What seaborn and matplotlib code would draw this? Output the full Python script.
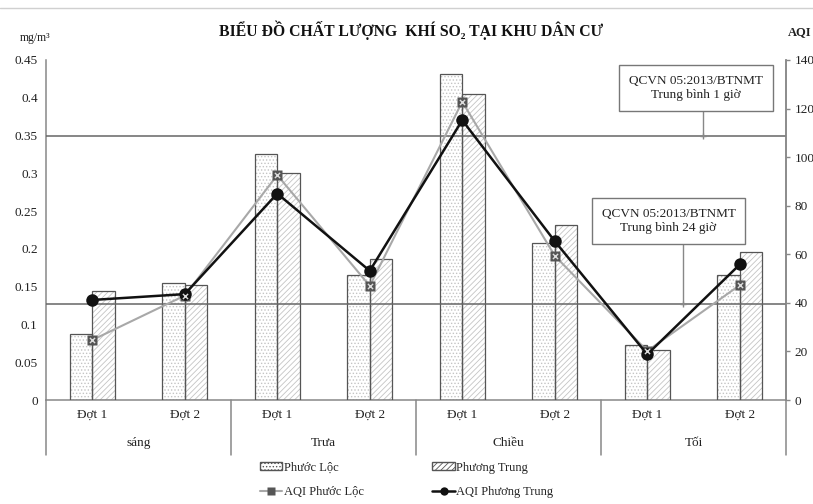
import pandas as pd
import matplotlib.pyplot as plt
import seaborn as sns
from matplotlib.patches import Rectangle, Patch
from matplotlib.lines import Line2D

# dữ liệu
periods = ['sáng', 'Trưa', 'Chiều', 'Tối']
rounds = ['Đợt 1', 'Đợt 2']
so2_phuoc_loc = [0.087, 0.155, 0.325, 0.165, 0.432, 0.208, 0.073, 0.165]
so2_phuong_trung = [0.144, 0.152, 0.300, 0.187, 0.405, 0.231, 0.066, 0.196]
aqi_phuoc_loc = [24.7, 43.0, 92.6, 47.0, 122.8, 59.4, 20.2, 47.3]
aqi_phuong_trung = [41.2, 43.6, 85.0, 53.2, 115.2, 65.4, 18.8, 55.8]
limits = [0.35, 0.127]
limit_labels = ['QCVN 05:2013/BTNMT\nTrung bình 1 giờ', 'QCVN 05:2013/BTNMT\nTrung bình 24 giờ']

labels = [f'{p}|{r}' for p in periods for r in rounds]
n = len(labels)

bars = pd.DataFrame({
    'cat': labels * 2,
    'val': so2_phuoc_loc + so2_phuong_trung,
    'site': ['Phước Lộc'] * n + ['Phương Trung'] * n,
})
lines = pd.DataFrame({
    'pos': list(range(n)) * 2,
    'aqi': aqi_phuoc_loc + aqi_phuong_trung,
    'series': ['AQI Phước Lộc'] * n + ['AQI Phương Trung'] * n,
})

sns.set_theme(style='white')
plt.rcParams['font.family'] = ['Liberation Serif', 'DejaVu Serif']
plt.rcParams['hatch.linewidth'] = 0.6

fig = plt.figure(figsize=(8.13, 5.04), dpi=100)
ax = fig.add_axes([0.0566, 0.2063, 0.9102, 0.6747])

sns.barplot(data=bars, x='cat', y='val', hue='site', order=labels,
            palette={'Phước Lộc': 'white', 'Phương Trung': 'white'},
            width=0.49, gap=0, ax=ax, legend=False, saturation=1)

hatches = {'Phước Lộc': '.....', 'Phương Trung': '//////'}
for cont, site in zip(ax.containers, ['Phước Lộc', 'Phương Trung']):
    for p in cont:
        p.set_hatch(hatches[site])
        p.set_edgecolor('#c4c4c4')
        p.set_linewidth(0)
        ax.add_patch(Rectangle(p.get_xy(), p.get_width(), p.get_height(),
                               fill=False, edgecolor='#555555', lw=0.9, zorder=3))

ax.set_ylim(0, 0.45)
ax.set_yticks([0, 0.05, 0.1, 0.15, 0.2, 0.25, 0.3, 0.35, 0.4, 0.45])
ax.set_yticklabels(['0', '0.05', '0.1', '0.15', '0.2', '0.25', '0.3', '0.35', '0.4', '0.45'])
ax.set_xlabel('')
ax.set_ylabel('')
ax.set_xticks(range(n))
ax.set_xticklabels([l.split('|')[1] for l in labels])
ax.tick_params(axis='both', length=0, labelsize=9.5, colors='#222222')
ax.tick_params(axis='x', pad=6)
ax.tick_params(axis='y', pad=6)

for y in limits:
    ax.axhline(y, color='#666666', lw=1.1, zorder=4)

# chú thích quy chuẩn (vị trí hộp, vị trí đường dẫn)
ann_pos = [(6.53, 0.413, 6.60), (6.23, 0.237, 6.39)]
for (xb, ytxt, xl), y, txt in zip(ann_pos, limits, limit_labels):
    ax.text(xb, ytxt, txt, ha='center', va='center', fontsize=9.5, color='#222222',
            bbox=dict(boxstyle='square,pad=0.75', fc='white', ec='#777777', lw=1),
            zorder=5)
    ax.plot([xl, xl], [ytxt - 0.028, y], color='#888888', lw=1, zorder=4)
    ax.plot([xl], [y], marker='+', color='#888888', ms=5, zorder=6)

ax.spines['top'].set_visible(False)
for s in ['left', 'right', 'bottom']:
    ax.spines[s].set_color('#888888')
    ax.spines[s].set_linewidth(1.1)

ax2 = ax.twinx()
sns.lineplot(data=lines, x='pos', y='aqi', hue='series', style='series',
             palette={'AQI Phước Lộc': '#a8a8a8', 'AQI Phương Trung': '#111111'},
             markers={'AQI Phước Lộc': 's', 'AQI Phương Trung': 'o'},
             dashes=False, markersize=9, linewidth=1.8, legend=False, ax=ax2,
             markeredgecolor='none')
for l in ax2.lines:
    if l.get_marker() == 's':
        l.set_markerfacecolor('#555555')
        l.set_markersize(7)
        l.set_linewidth(1.5)
pl = lines[lines['series'] == 'AQI Phước Lộc']
sns.scatterplot(data=pl, x='pos', y='aqi', marker='x', color='#dddddd', s=14,
                linewidth=1, ax=ax2, zorder=5, legend=False)
ax2.set_ylim(0, 140)
ax2.set_yticks(range(0, 141, 20))
ax2.set_ylabel('')
ax2.set_xlabel('')
ax2.tick_params(axis='y', length=3, width=1, color='#888888', direction='out',
                labelsize=9.5, labelcolor='#222222', pad=3)
for s in ['top', 'left', 'bottom']:
    ax2.spines[s].set_visible(False)
ax2.spines['right'].set_color('#888888')
ax2.spines['right'].set_linewidth(1.1)
ax.set_xlim(-0.5, n - 0.5)
ax2.set_xlim(-0.5, n - 0.5)

# nhãn nhóm và đường phân cách
trans = ax.get_xaxis_transform()
for i, p in enumerate(periods):
    ax.text(2 * i + 0.5, -0.126, p, transform=trans, ha='center', va='center',
            fontsize=9.5, color='#222222')
for b in range(len(periods) + 1):
    ax.plot([2 * b - 0.5] * 2, [0, -0.162], transform=trans, color='#888888',
            lw=1.1, clip_on=False)

fig.text(0.505, 0.94, 'BIỂU ĐỒ CHẤT LƯỢNG  KHÍ SO₂ TẠI KHU DÂN CƯ',
         ha='center', va='center', fontsize=11.3, fontweight='bold', color='#111111')
fig.text(0.043, 0.925, 'mg/m³', ha='center', va='center', fontsize=8.5, color='#222222')
fig.text(0.984, 0.937, 'AQI', ha='center', va='center', fontsize=9, fontweight='bold',
         color='#222222')
fig.add_artist(Line2D([0, 1], [0.984, 0.984], color='#d0d0d0', lw=1))

handles = [
    Patch(facecolor='white', edgecolor='#555555', hatch='.....', label='Phước Lộc'),
    Line2D([], [], color='#a8a8a8', lw=1.5, marker='s', mfc='#555555', mec='none',
           ms=6, label='AQI Phước Lộc'),
    Patch(facecolor='white', edgecolor='#555555', hatch='//////', label='Phương Trung'),
    Line2D([], [], color='#111111', lw=1.8, marker='o', mec='none', ms=6,
           label='AQI Phương Trung'),
]
fig.legend(handles=handles, loc='center', bbox_to_anchor=(0.50, 0.048), ncol=2,
           frameon=False, fontsize=9, columnspacing=5.5, handletextpad=0.1,
           handlelength=1.8, labelspacing=1.0, handleheight=0.6)

plt.savefig('out.png', dpi=100)
